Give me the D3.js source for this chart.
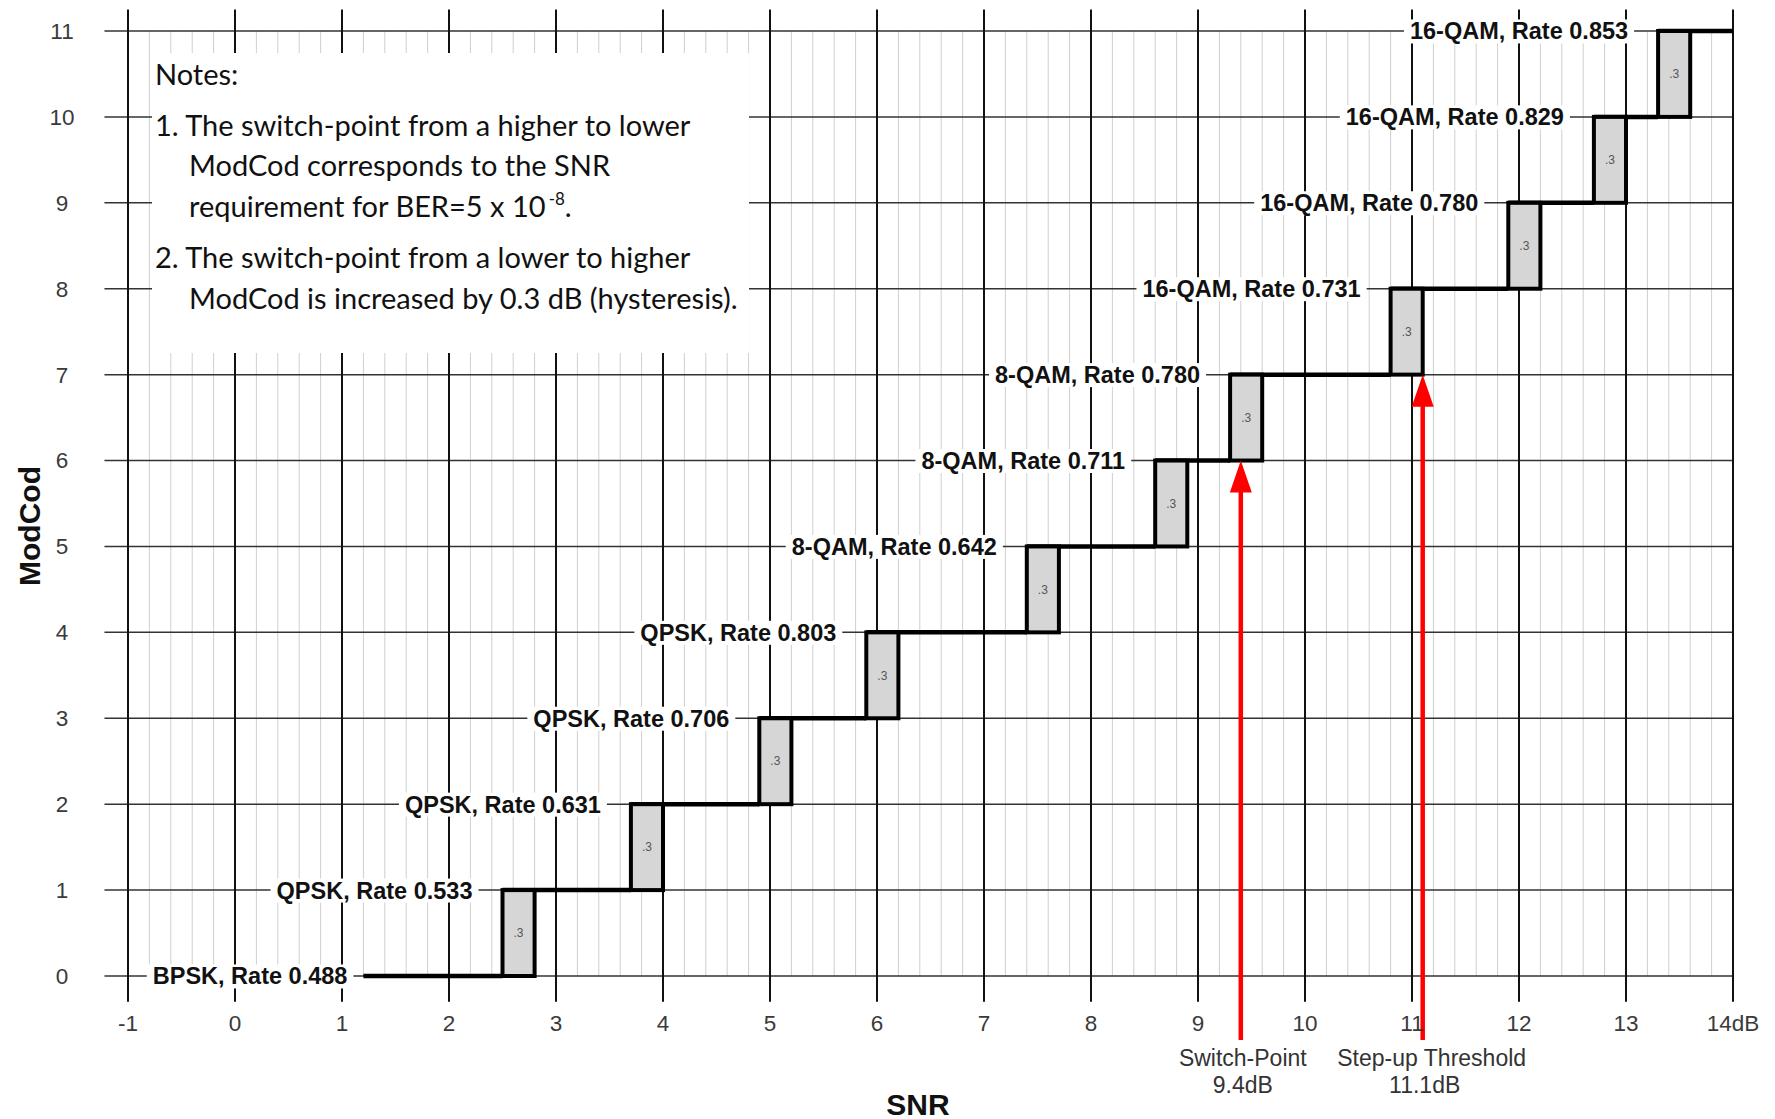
<!DOCTYPE html>
<meta charset="utf-8">
<style>
body { margin: 0; background: #fff; }
svg { display: block; }
.minor { stroke: #cfcfcf; stroke-width: 1px; }
.hmajor { stroke: #333; stroke-width: 1.5px; }
.vmajor { stroke: #111; stroke-width: 2px; }
.tick { font-family: "Liberation Sans", Arial, sans-serif; font-size: 22.5px; fill: #3a3a3a; }
.lvl { font-family: "Liberation Sans", Arial, sans-serif; font-size: 23.5px; font-weight: bold; fill: #111; }
.title { font-family: "Liberation Sans", Arial, sans-serif; font-size: 30px; font-weight: bold; fill: #111; }
.notes { font-family: Lato, "Open Sans", sans-serif; font-size: 29px; fill: #111; }
.stair { fill: none; stroke: #000; stroke-width: 4.5px; }
.hyst { fill: #d6d6d6; stroke: #000; stroke-width: 4px; }
.hlab { font-family: "Liberation Sans", Arial, sans-serif; font-size: 12px; fill: #555; }
.arrow { stroke: #f00; stroke-width: 4.5px; }
.ann { font-family: "Liberation Sans", Arial, sans-serif; font-size: 23px; fill: #333; }
</style>
<svg width="1775" height="1119"></svg>
<script src="https://cdn.jsdelivr.net/npm/d3@7"></script>
<script>
// modcod levels and their labels
var levels = [0, 1, 2, 3, 4, 5, 6, 7, 8, 9, 10, 11];
var modcodLabels = [
  "BPSK, Rate 0.488", "QPSK, Rate 0.533", "QPSK, Rate 0.631", "QPSK, Rate 0.706",
  "QPSK, Rate 0.803", "8-QAM, Rate 0.642", "8-QAM, Rate 0.711", "8-QAM, Rate 0.780",
  "16-QAM, Rate 0.731", "16-QAM, Rate 0.780", "16-QAM, Rate 0.829", "16-QAM, Rate 0.853"
];
// switch-down SNR (dB) between level k and k+1
var switchPoints = [2.5, 3.7, 4.9, 5.9, 7.4, 8.6, 9.3, 10.8, 11.9, 12.7, 13.3];
var hysteresis = 0.3;
var curveStart = 1.2, curveEnd = 14;

var xTicks = d3.range(-1, 15);
var xTickLabels = ["-1","0","1","2","3","4","5","6","7","8","9","10","11","12","13","14dB"];
var yTicks = d3.range(0, 12);

// arrows: SNR, level the tip points at, two text lines
var arrowSnr = [9.4, 11.1];
var arrowLevel = [6, 7];
var arrowText = [["Switch-Point", "9.4dB"], ["Step-up Threshold", "11.1dB"]];

var notes = [
  "Notes:",
  "1. The switch-point from a higher to lower",
  "ModCod corresponds to the SNR",
  "requirement for BER=5 x 10",
  "2. The switch-point from a lower to higher",
  "ModCod is increased by 0.3 dB (hysteresis)."
];

var svg = d3.select("svg");
var x = d3.scaleLinear().domain([-1, 14]).range([128, 1733]);
var y = d3.scaleLinear().domain([0, 11]).range([976, 31]);

var grid = svg.append("g");
// minor verticals every 0.2 dB
grid.selectAll(".minor")
  .data(d3.range(-1, 14.001, 0.2).filter(function(d) { return Math.abs(d - Math.round(d)) > 0.01; }))
  .enter().append("line")
  .attr("class", "minor")
  .attr("x1", function(d) { return x(d); }).attr("x2", function(d) { return x(d); })
  .attr("y1", y(11)).attr("y2", y(0));

grid.selectAll(".hmajor").data(yTicks).enter().append("line")
  .attr("class", "hmajor")
  .attr("x1", x(-1.22)).attr("x2", x(14))
  .attr("y1", function(d) { return y(d); }).attr("y2", function(d) { return y(d); });

grid.selectAll(".vmajor").data(xTicks).enter().append("line")
  .attr("class", "vmajor")
  .attr("x1", function(d) { return x(d); }).attr("x2", function(d) { return x(d); })
  .attr("y1", y(11.25)).attr("y2", y(-0.3));

// notes box
svg.append("rect")
  .attr("x", 152).attr("y", 53).attr("width", 597).attr("height", 300)
  .attr("fill", "#fff");

var nt = svg.append("g").attr("class", "notes");
var noteX = [155, 155, 189, 189, 155, 189];
var noteY = [85, 136, 176, 217, 268, 309];
notes.forEach(function(s, i) {
  var t = nt.append("text").attr("x", noteX[i]).attr("y", noteY[i]).text(s);
  if (i === 3) {
    t.append("tspan").attr("dx", 3).attr("dy", -12).attr("font-size", "17px").text("-8");
    t.append("tspan").attr("dy", 12).text(".");
  }
});

// level labels with white backing
var lab = svg.append("g");
levels.forEach(function(k) {
  var start = k === 0 ? curveStart : switchPoints[k - 1];
  var ex = x(start) - (k === 0 ? 16 : 30);
  var g = lab.append("g");
  var t = g.append("text").attr("class", "lvl")
    .attr("x", ex).attr("y", y(k)).attr("dy", "0.36em")
    .attr("text-anchor", "end").text(modcodLabels[k]);
  var b = t.node().getBBox();
  g.insert("rect", "text")
    .attr("x", b.x - 6).attr("y", b.y + 1).attr("width", b.width + 12).attr("height", b.height - 2)
    .attr("fill", "#fff");
});

// staircase horizontal segments
var segs = levels.map(function(k) {
  return [k === 0 ? curveStart : switchPoints[k - 1], k === 11 ? curveEnd : switchPoints[k], k];
});
svg.append("g").selectAll("line").data(segs).enter().append("line")
  .attr("class", "stair")
  .attr("x1", function(d) { return x(d[0]); }).attr("x2", function(d) { return x(d[1]); })
  .attr("y1", function(d) { return y(d[2]); }).attr("y2", function(d) { return y(d[2]); });

// hysteresis boxes
var hb = svg.append("g").selectAll("g").data(switchPoints).enter().append("g");
hb.append("rect").attr("class", "hyst")
  .attr("x", function(d) { return x(d); })
  .attr("y", function(d, i) { return y(i + 1); })
  .attr("width", function(d) { return x(d + hysteresis) - x(d); })
  .attr("height", function(d, i) { return y(i) - y(i + 1); });
hb.append("text").attr("class", "hlab")
  .attr("x", function(d) { return x(d + hysteresis / 2); })
  .attr("y", function(d, i) { return y(i + 0.5); })
  .attr("dy", "0.35em").attr("text-anchor", "middle").text(".3");

// red arrows
arrowSnr.forEach(function(v, i) {
  var ax = x(v), tip = y(arrowLevel[i]);
  svg.append("line").attr("class", "arrow")
    .attr("x1", ax).attr("x2", ax).attr("y1", 1040).attr("y2", tip + 25);
  svg.append("path").attr("fill", "#f00")
    .attr("d", "M" + ax + "," + tip + "L" + (ax - 11) + "," + (tip + 32) + "L" + (ax + 11) + "," + (tip + 32) + "Z");
  arrowText[i].forEach(function(s, j) {
    svg.append("text").attr("class", "ann")
      .attr("x", ax + (j === 0 && i === 1 ? 9 : 2)).attr("y", 1058 + j * 27).attr("dy", "0.35em")
      .attr("text-anchor", "middle").text(s);
  });
});

// tick labels
svg.append("g").selectAll("text").data(xTicks).enter().append("text")
  .attr("class", "tick").attr("text-anchor", "middle")
  .attr("x", function(d) { return x(d); }).attr("y", 1023).attr("dy", "0.35em")
  .text(function(d, i) { return xTickLabels[i]; });
svg.append("g").selectAll("text").data(yTicks).enter().append("text")
  .attr("class", "tick").attr("text-anchor", "middle")
  .attr("x", 62).attr("y", function(d) { return y(d); }).attr("dy", "0.35em")
  .text(function(d) { return d; });

svg.append("text").attr("class", "title").attr("text-anchor", "middle")
  .attr("x", 918).attr("y", 1104).attr("dy", "0.35em").text("SNR");
svg.append("text").attr("class", "title").attr("text-anchor", "middle")
  .attr("font-size", "32px")
  .attr("transform", "translate(29,526) rotate(-90)").attr("dy", "0.35em").text("ModCod");
</script>
